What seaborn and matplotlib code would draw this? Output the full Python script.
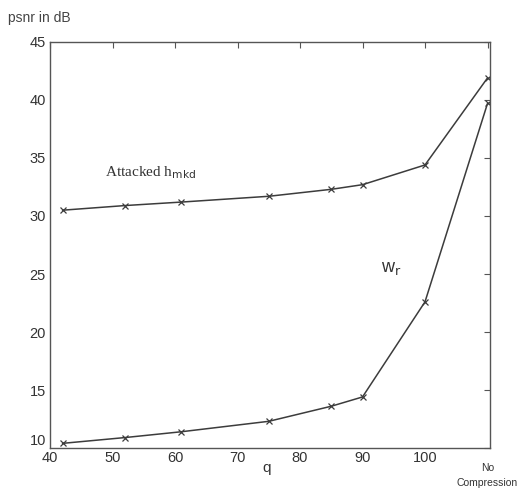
import matplotlib
matplotlib.use("Agg")
import matplotlib.pyplot as plt
import seaborn as sns
import pandas as pd

q_values = [42, 52, 61, 75, 85, 90, 100, 110]
attacked_hmkd = [30.5, 30.9, 31.2, 31.7, 32.3, 32.7, 34.4, 41.9]
w_r = [10.4, 10.9, 11.4, 12.3, 13.6, 14.4, 22.6, 39.7]
x_ticks = [40, 50, 60, 70, 80, 90, 100, 110]
x_ticklabels = ["40", "50", "60", "70", "80", "90", "100", "No\nCompression"]
y_ticks = [10, 15, 20, 25, 30, 35, 40, 45]

sns.set_style("white")
plt.rcParams['font.family'] = ['Liberation Sans', 'DejaVu Sans']

df = pd.concat([
    pd.DataFrame({"q": q_values, "psnr": attacked_hmkd, "series": "hmkd"}),
    pd.DataFrame({"q": q_values, "psnr": w_r, "series": "wr"}),
])

fig = plt.figure(figsize=(5.28, 4.90), dpi=100)
ax = fig.add_axes([50/528, 1-448/490, 440/528, 406/490])
line_color = "#3c3c3c"
sns.lineplot(data=df, x="q", y="psnr", units="series", estimator=None,
             color=line_color, marker="x", markersize=4, markeredgewidth=0.9,
             markeredgecolor=line_color, linewidth=1.1, ax=ax, legend=False)

ax.set_xlim(40, 110.4)
ax.set_ylim(10, 45)
ax.set_xticks(x_ticks)
ax.set_xticklabels(x_ticklabels)
ax.set_yticks(y_ticks)
ax.tick_params(direction="in", top=True, right=True, length=4, width=0.8,
               color="#555555", labelsize=10.5, labelcolor="#333333", pad=2)
ax.tick_params(axis="y", pad=3)
for lab in ax.get_xticklabels():
    if "No" in lab.get_text():
        lab.set_fontsize(7.5)
        lab.set_linespacing(1.6)
        lab.set_y(-0.03)
for lab in ax.get_yticklabels():
    if lab.get_text() == "10":
        lab.set_va("bottom")
for sp in ax.spines.values():
    sp.set_color("#555555")
    sp.set_linewidth(1.0)

ax.set_xlabel("")
ax.set_ylabel("")
fig.text(267/528, 1-468/490, "q", fontsize=11, color="#333333", ha="center", va="center")
fig.text(8/528, 1-18/490, "psnr in dB", fontsize=10, color="#444444", va="center")

ax.text(48.8, 33.4, r"Attacked h$_{\rm mkd}$", fontsize=11,
        family=["Liberation Serif", "DejaVu Serif"], color="#333333")
ax.text(93.0, 25.2, r"w$_{\rm r}$", fontsize=13, color="#333333")

fig.savefig("out.png", dpi=100, facecolor="white")
